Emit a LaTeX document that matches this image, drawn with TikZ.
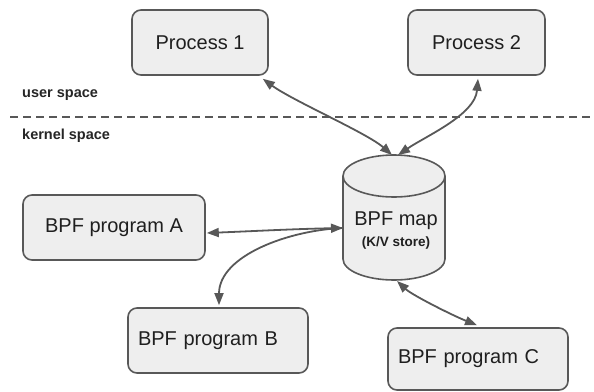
\documentclass[tikz,border=0pt]{standalone}
\usepackage{fontspec}
\setmainfont{Liberation Sans}
\usetikzlibrary{arrows.meta}
\definecolor{edgegray}{HTML}{585858}
\definecolor{boxfill}{HTML}{EEEEEE}
\tikzset{
  box/.style={draw=edgegray, fill=boxfill, line width=1.6pt, rounded corners=9pt,
    minimum height=65pt, inner sep=0pt, font=\fontsize{20}{24}\selectfont, text=black!88},
  leftbox/.style={box, align=left, text width=160pt, inner xsep=10pt},
  tip/.tip={Triangle[length=12pt,width=9pt]},
  arr/.style={draw=edgegray, line width=1.8pt, -tip},
  darr/.style={draw=edgegray, line width=1.8pt, tip-tip},
  spacelabel/.style={anchor=west, inner sep=0pt, font=\bfseries\fontsize{14.5}{17}\selectfont, text=black!85}
}
\begin{document}
\begin{tikzpicture}[x=1pt,y=-1pt]
\useasboundingbox (0,0) rectangle (594,391);

% user / kernel separator
\draw[edgegray, line width=1.6pt, dash pattern=on 8pt off 5pt] (10,117) -- (594,117);
\node[spacelabel] (us) at (22,95) {user space};
\node[spacelabel] (ks) at (22,136) {kernel space};

% boxes
\node[box, minimum width=136pt] (p1) at (200,42.5) {Process 1};
\node[box, minimum width=137pt] (p2) at (476.5,42.5) {Process 2};
\node[box, minimum width=182pt] (pa) at (114,227.5) {BPF program A};
\node[leftbox] (pb) at (218,340.5) {BPF program B};
\node[leftbox, minimum height=62pt] (pc) at (478,359) {BPF program C};

% cylinder (BPF map)
\filldraw[draw=edgegray, fill=boxfill, line width=1.6pt]
  (343,176) -- (343,259) arc[start angle=180, end angle=0, x radius=51, y radius=21] -- (445,176);
\filldraw[draw=edgegray, fill=boxfill, line width=1.6pt] (394,176) ellipse[x radius=51, y radius=21];
\node[align=center, inner sep=0pt, font=\fontsize{20}{24}\selectfont, text=black!88] (map) at (396,231)
  {BPF map\\[-3pt]{\bfseries\fontsize{13.5}{16}\selectfont (K/V store)}};
\coordinate (maptopL) at (392,155);
\coordinate (maptopR) at (398,155);
\coordinate (mapleft) at (343,228);
\coordinate (mapbot) at (397,281);

% connectors
\draw[darr] ([xshift=-6pt,yshift=-3pt]p1.south east) .. controls +(30,22) and +(-25,-22) .. (maptopL);
\draw[darr] ([xshift=1.5pt,yshift=-3pt]p2.south) .. controls +(-3,36) and +(28,-19) .. (maptopR);
\draw[darr] ([xshift=1pt,yshift=-5.5pt]pa.east) .. controls +(50,-2) and +(-50,1) .. (mapleft);
\draw[arr] (mapleft) .. controls +(-53,2) and +(0,-50) .. ([xshift=1pt,yshift=2pt]pb.north);
\draw[darr] (mapbot) .. controls +(15,14) and +(-25,-10) .. ([xshift=-1pt,yshift=2pt]pc.north);
\end{tikzpicture}
\end{document}
